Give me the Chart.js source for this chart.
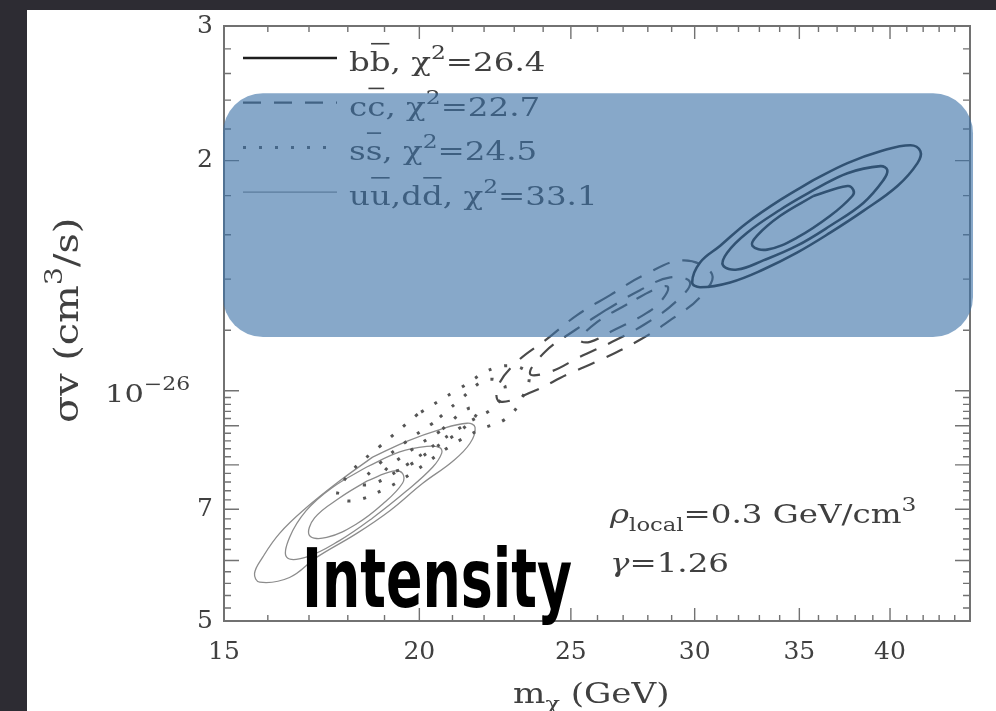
<!DOCTYPE html>
<html>
<head>
<meta charset="utf-8">
<script src="https://cdn.jsdelivr.net/npm/chart.js@4.4.0/dist/chart.umd.min.js"></script>
<style>
  html, body { margin: 0; padding: 0; background: #2d2c33; }
  body { width: 996px; height: 711px; overflow: hidden; position: relative; }
  #panel { position: absolute; left: 27px; top: 10px; right: 0; bottom: 0; background: #fff; }
  #chart { position: absolute; left: 0; top: 0; }
</style>
</head>
<body>
<div id="panel"></div>
<canvas id="chart" width="996" height="711"></canvas>
<script>
// sigma*v vs m_chi confidence contours (y in units of 1e-26 cm^3/s)

// ---- axes ----
const xTicks = [15, 20, 25, 30, 35, 40];
const xMinorTicks = [16, 17, 18, 19, 21, 22, 23, 24, 26, 27, 28, 29, 31, 32, 33, 34, 36, 37, 38, 39, 41, 42, 43, 44];
const yTicks = [0.5, 0.7, 1, 2, 3];
const yTickLabels = ['5', '7', '', '2', '3'];   // the 10^-26 label is set with a raised exponent below
const yDecadeLabel = [['10'], ['−26', 'sup']];
const yLongTicks = [0.5, 0.6, 0.7, 0.8, 0.9, 1, 2, 3];
const yMinorTicks = [0.52, 0.54, 0.56, 0.58, 0.62, 0.64, 0.66, 0.68, 0.72, 0.74, 0.76, 0.78,
  0.82, 0.84, 0.86, 0.88, 0.92, 0.94, 0.96, 0.98, 1.2, 1.4, 1.6, 1.8, 2.2, 2.4, 2.6, 2.8];

// ---- contours [m_chi GeV, sigma v] ----
const bbOuter = [[35.73, 1.886], [34.03, 1.777], [32.41, 1.659], [31.15, 1.548], [30.24, 1.472], [29.89, 1.386],
  [30.24, 1.366], [31.61, 1.386], [33.19, 1.441], [34.88, 1.516], [36.63, 1.610], [38.46, 1.719],
  [40.44, 1.853], [41.65, 1.985], [41.83, 2.057], [41.22, 2.095], [39.44, 2.057], [37.57, 1.985]];
const bbMiddle = [[35.73, 1.830], [34.03, 1.725], [32.41, 1.610], [31.47, 1.516], [31.28, 1.459], [31.94, 1.441],
  [33.19, 1.481], [34.88, 1.548], [36.63, 1.644], [38.46, 1.761], [39.61, 1.886], [39.84, 1.944],
  [39.44, 1.967], [37.57, 1.926]];
const bbInner = [[35.73, 1.798], [34.03, 1.694], [32.89, 1.596], [32.66, 1.548], [33.38, 1.530], [34.88, 1.586],
  [36.63, 1.694], [37.84, 1.798], [37.90, 1.830], [37.57, 1.853]];

const ccOuter = [[26.49, 1.334], [25.23, 1.256], [24.14, 1.169], [23.10, 1.092], [22.45, 1.013], [22.52, 0.968],
  [23.64, 0.998], [24.86, 1.050], [26.22, 1.102], [27.68, 1.166], [28.94, 1.237], [30.24, 1.326],
  [30.78, 1.420], [29.50, 1.481], [27.81, 1.415]];
const ccMiddle = [[26.30, 1.274], [25.16, 1.201], [24.07, 1.125], [23.54, 1.053], [24.25, 1.059], [25.34, 1.108],
  [26.57, 1.159], [27.89, 1.223], [29.16, 1.306], [29.80, 1.386], [28.94, 1.407], [27.68, 1.354]];
const ccInner = [[27.16, 1.298], [25.98, 1.230], [25.34, 1.166], [25.72, 1.159], [26.49, 1.194], [27.81, 1.256],
  [28.51, 1.306], [28.85, 1.366], [28.39, 1.362]];

const ssOuter = [[19.95, 0.932], [18.87, 0.846], [18.05, 0.780], [17.73, 0.729], [18.13, 0.718], [19.01, 0.744],
  [19.86, 0.785], [20.92, 0.846], [21.87, 0.890], [22.69, 0.918], [23.20, 0.968], [23.47, 1.053],
  [22.52, 1.076], [21.17, 1.004]];
const ssMiddle = [[20.40, 0.907], [19.63, 0.859], [18.87, 0.804], [18.37, 0.757], [18.73, 0.757], [19.57, 0.797],
  [20.61, 0.859], [21.55, 0.912], [22.35, 0.954], [22.69, 1.013], [22.09, 1.034], [21.17, 0.968]];
const ssInner = [[20.61, 0.885], [19.72, 0.834], [19.01, 0.785], [19.49, 0.790], [20.40, 0.839], [21.29, 0.890],
  [21.80, 0.940], [21.49, 0.948]];

const uuOuter = [[18.67, 0.819], [17.78, 0.762], [16.93, 0.703], [16.28, 0.651], [15.88, 0.606], [15.69, 0.577],
  [15.81, 0.562], [16.52, 0.570], [17.20, 0.606], [18.24, 0.651], [19.15, 0.697], [20.10, 0.757],
  [21.01, 0.809], [21.55, 0.854], [21.71, 0.896], [21.46, 0.907], [20.61, 0.890], [19.63, 0.859]];
const uuMiddle = [[18.51, 0.795], [17.57, 0.746], [16.93, 0.697], [16.52, 0.643], [16.45, 0.606], [16.93, 0.606],
  [17.78, 0.637], [18.67, 0.682], [19.63, 0.740], [20.40, 0.795], [20.67, 0.829], [20.61, 0.843],
  [20.22, 0.846], [19.43, 0.832]];
const uuInner = [[18.51, 0.762], [17.78, 0.724], [17.14, 0.682], [17.01, 0.647], [17.45, 0.643], [18.24, 0.670],
  [18.95, 0.711], [19.51, 0.757], [19.51, 0.780], [19.23, 0.785]];

const families = [
  { label: 'bb', rings: [bbOuter, bbMiddle, bbInner] },
  { label: 'cc', rings: [ccOuter, ccMiddle, ccInner] },
  { label: 'ss', rings: [ssOuter, ssMiddle, ssInner] },
  { label: 'uu,dd', rings: [uuOuter, uuMiddle, uuInner] }
];

// legend / notes as rich text: [text, kind]
const legendLabels = [
  [['b'], ['b', 'over'], [', '], ['χ'], ['2', 'sup'], ['=26.4']],
  [['c'], ['c', 'over'], [', '], ['χ'], ['2', 'sup'], ['=22.7']],
  [['s'], ['s', 'over'], [', '], ['χ'], ['2', 'sup'], ['=24.5']],
  [['u'], ['u', 'over'], [','], ['d'], ['d', 'over'], [', '], ['χ'], ['2', 'sup'], ['=33.1']]
];
const noteLines = [
  [['ρ', 'it'], ['local', 'sub'], ['=0.3 GeV/cm'], ['3', 'sup']],
  [['γ', 'it'], ['=1.26']]
];
const xTitle = [['m'], ['χ', 'sub'], [' (GeV)']];
const yTitle = [['σv (cm'], ['3', 'sup'], ['/s)']];
const bandLabel = 'Intensity';
const band = { xMin: 15, xMax: 45.2, yMin: 1.176, yMax: 2.45 };

// ---- styles ----
const familyStyles = [
  { color: '#1e1e1e', width: 2.6, dash: [] },
  { color: '#4a4a4a', width: 2.2, dash: [18, 13] },
  { color: '#555555', width: 3, dash: [3, 13] },
  { color: '#8c8c8c', width: 1.3, dash: [] }
];
const FONT = '"DejaVu Serif", "Liberation Serif", serif';
const TEXT = '#404040';
const AXIS = '#727272';
const STRETCH = 1.25;

function drawRich(ctx, segs, x, y, size, stretch) {
  ctx.save();
  ctx.translate(x, y);
  ctx.scale(stretch, 1);
  ctx.textAlign = 'left';
  ctx.textBaseline = 'alphabetic';
  let cx = 0;
  for (const [t, kind] of segs) {
    let fs = size, dy = 0, style = '';
    if (kind === 'sup') { fs = size * 0.72; dy = -size * 0.46; }
    if (kind === 'sub') { fs = size * 0.7; dy = size * 0.3; }
    if (kind === 'it') style = 'italic ';
    ctx.font = style + fs + 'px ' + FONT;
    ctx.fillText(t, cx, dy);
    const w = ctx.measureText(t).width;
    if (kind === 'over') ctx.fillRect(cx + 1, -size * 1.08, w - 2, 1.6);
    cx += w;
  }
  ctx.restore();
}

const datasets = [];
families.forEach((fam, i) => {
  const st = familyStyles[i];
  fam.rings.forEach(ring => {
    datasets.push({
      label: fam.label,
      data: ring.concat([ring[0]]),
      showLine: true,
      fill: false,
      tension: 0.4,
      pointRadius: 0,
      borderColor: st.color,
      borderWidth: st.width,
      borderDash: st.dash
    });
  });
});

const frameTicks = {
  id: 'frameTicks',
  beforeDatasetsDraw(chart) {
    const { ctx, chartArea: a, scales: { x, y } } = chart;
    ctx.save();
    ctx.strokeStyle = AXIS;
    ctx.lineWidth = 2;
    ctx.strokeRect(a.left, a.top, a.right - a.left, a.bottom - a.top);
    ctx.lineWidth = 1.4;
    ctx.beginPath();
    const tx = (v, len) => {
      const p = x.getPixelForValue(v);
      ctx.moveTo(p, a.bottom); ctx.lineTo(p, a.bottom - len);
      ctx.moveTo(p, a.top); ctx.lineTo(p, a.top + len);
    };
    const ty = (v, len) => {
      const p = y.getPixelForValue(v);
      ctx.moveTo(a.left, p); ctx.lineTo(a.left + len, p);
      ctx.moveTo(a.right, p); ctx.lineTo(a.right - len, p);
    };
    xTicks.forEach(v => tx(v, 13));
    xMinorTicks.forEach(v => tx(v, 6));
    yLongTicks.forEach(v => ty(v, 15));
    yMinorTicks.forEach(v => ty(v, 7));
    ctx.stroke();
    // exponent-style label for the 1e-26 tick
    ctx.fillStyle = TEXT;
    drawRich(ctx, yDecadeLabel, 105, y.getPixelForValue(1) + 11, 25, 1.22);
    ctx.restore();
  }
};

const textLayer = {
  id: 'textLayer',
  afterDatasetsDraw(chart) {
    const { ctx } = chart;
    ctx.save();
    // legend
    legendLabels.forEach((segs, i) => {
      const base = 71 + i * 44.7;
      const st = familyStyles[i];
      ctx.strokeStyle = st.color;
      ctx.lineWidth = st.width;
      ctx.setLineDash(st.dash);
      ctx.beginPath();
      ctx.moveTo(243, base - 13);
      ctx.lineTo(337, base - 13);
      ctx.stroke();
      ctx.setLineDash([]);
      ctx.fillStyle = TEXT;
      drawRich(ctx, segs, 349, base, 26, STRETCH);
    });
    ctx.fillStyle = TEXT;
    drawRich(ctx, noteLines[0], 610, 523, 26, STRETCH);
    drawRich(ctx, noteLines[1], 610, 572, 26, STRETCH);
    // axis titles
    drawRich(ctx, xTitle, 513, 703, 28, 1.22);
    ctx.translate(78, 423);
    ctx.rotate(-Math.PI / 2);
    drawRich(ctx, yTitle, 0, 0, 34, 1.17);
    ctx.restore();
  }
};

const bandLayer = {
  id: 'bandLayer',
  afterDraw(chart) {
    const { ctx, scales: { x, y } } = chart;
    const l = x.getPixelForValue(band.xMin) - 1;
    const r = x.getPixelForValue(band.xMax);
    const t = y.getPixelForValue(band.yMax);
    const b = y.getPixelForValue(band.yMin);
    ctx.save();
    ctx.fillStyle = 'rgba(62, 115, 168, 0.62)';
    ctx.beginPath();
    ctx.roundRect(l, t, r - l, b - t, 40);
    ctx.fill();
    // big label
    ctx.font = 'bold 82px "Liberation Sans Narrow", "DejaVu Sans Condensed", "Liberation Sans", sans-serif';
    ctx.fillStyle = '#000';
    ctx.textBaseline = 'alphabetic';
    const w = ctx.measureText(bandLabel).width;
    ctx.translate(302, 607);
    ctx.scale(270 / w, 1);
    ctx.fillText(bandLabel, 0, 0);
    ctx.restore();
  }
};

new Chart(document.getElementById('chart'), {
  type: 'scatter',
  data: { datasets },
  options: {
    responsive: false,
    devicePixelRatio: 1,
    animation: false,
    events: [],
    layout: { padding: { left: 0, top: 22, right: 26, bottom: 0 } },
    plugins: { legend: { display: false }, tooltip: { enabled: false } },
    scales: {
      x: {
        type: 'logarithmic',
        min: 15,
        max: 45,
        grid: { display: false, drawTicks: false },
        border: { display: false },
        afterBuildTicks: s => { s.ticks = xTicks.map(v => ({ value: v })); },
        afterFit: s => { s.height = 90; },
        ticks: {
          autoSkip: false, maxRotation: 0, padding: 16, color: TEXT,
          font: { family: FONT, size: 25 },
          callback: v => String(v)
        }
      },
      y: {
        type: 'logarithmic',
        min: 0.5,
        max: 3,
        grid: { display: false, drawTicks: false },
        border: { display: false },
        afterBuildTicks: s => { s.ticks = yTicks.map(v => ({ value: v })); },
        afterFit: s => { s.width = 224; },
        ticks: {
          autoSkip: false, padding: 11, color: TEXT,
          font: { family: FONT, size: 25 },
          callback: (v, i) => yTickLabels[i]
        }
      }
    }
  },
  plugins: [frameTicks, textLayer, bandLayer]
});
</script>
</body>
</html>
